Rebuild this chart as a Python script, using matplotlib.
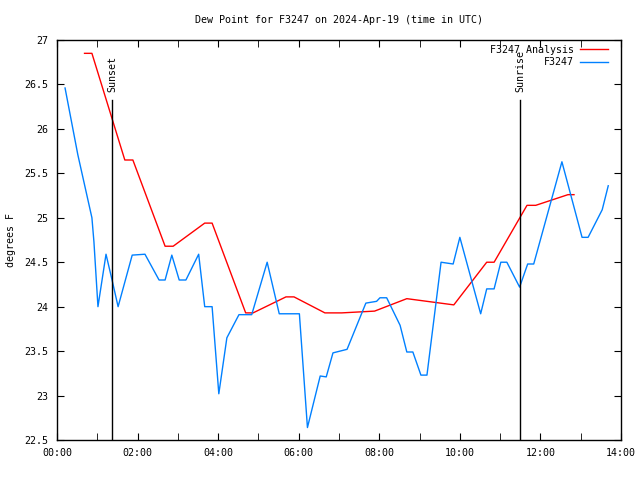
import matplotlib
matplotlib.use("Agg")
import matplotlib.pyplot as plt

# analysis series (time UTC, dew point F)
ana_times = ["00:41", "00:52", "01:41", "01:53", "02:41", "02:53", "03:40", "03:51",
             "04:41", "04:52", "05:41", "05:53", "06:39", "07:04", "07:53", "08:41",
             "09:51", "10:40", "10:51", "11:40", "11:53", "12:41", "12:50"]
ana_vals = [26.85, 26.85, 25.65, 25.65, 24.68, 24.68, 24.94, 24.94,
            23.93, 23.93, 24.11, 24.11, 23.93, 23.93, 23.95, 24.09,
            24.02, 24.50, 24.50, 25.14, 25.14, 25.26, 25.26]

# station series
obs_times = ["00:12", "00:31", "00:52", "00:55", "01:01", "01:13", "01:22", "01:31",
             "01:52", "02:11", "02:32", "02:41", "02:51", "03:02", "03:12", "03:31",
             "03:40", "03:51", "04:01", "04:13", "04:31", "04:50", "05:13", "05:31",
             "06:01", "06:13", "06:32", "06:41", "06:51", "07:12", "07:40", "07:56",
             "08:01", "08:11", "08:31", "08:41", "08:50", "09:02", "09:11", "09:32",
             "09:50", "10:00", "10:31", "10:40", "10:51", "11:01", "11:10", "11:29",
             "11:41", "11:50", "12:32", "13:02", "13:11", "13:32", "13:41"]
obs_vals = [26.46, 25.71, 25.00, 24.73, 24.00, 24.59, 24.30, 24.00,
            24.58, 24.59, 24.30, 24.30, 24.58, 24.30, 24.30, 24.59,
            24.00, 24.00, 23.02, 23.65, 23.91, 23.91, 24.50, 23.92,
            23.92, 22.64, 23.22, 23.21, 23.48, 23.52, 24.04, 24.06,
            24.10, 24.10, 23.79, 23.49, 23.49, 23.23, 23.23, 24.50,
            24.48, 24.78, 23.92, 24.20, 24.20, 24.50, 24.50, 24.22,
            24.48, 24.48, 25.63, 24.78, 24.78, 25.09, 25.36]

sunset = "01:22"
sunrise = "11:29"


def to_hours(s):
    h, m = s.split(":")
    return int(h) + int(m) / 60.0


plt.rcParams['font.family'] = ['DejaVu Sans Mono']
plt.rcParams['font.size'] = 7.2

fig = plt.figure(figsize=(6.4, 4.8), dpi=100)
ax = fig.add_axes([57 / 640, 40 / 480, 564 / 640, 400 / 480])

ax.plot([to_hours(t) for t in ana_times], ana_vals, color='#ff0000', lw=1,
        label='F3247 Analysis')
ax.plot([to_hours(t) for t in obs_times], obs_vals, color='#0080ff', lw=1,
        label='F3247')

# sunset / sunrise markers
for t, name in [(sunset, 'Sunset'), (sunrise, 'Sunrise')]:
    x = to_hours(t)
    ax.plot([x, x], [22.5, 26.33], color='black', lw=1)
    ax.text(x + 0.02, 26.42, name, rotation=90, ha='center', va='bottom')

ax.set_xlim(0, 14)
ax.set_ylim(22.5, 27)
ax.set_xticks(range(0, 15, 2))
ax.set_xticklabels(['%02d:00' % h for h in range(0, 15, 2)])
ax.set_xticks(range(1, 14, 2), minor=True)
yt = [22.5 + 0.5 * i for i in range(10)]
ax.set_yticks(yt)
ax.set_yticklabels(['%g' % v for v in yt])
ax.tick_params(which='both', direction='in', top=True, right=True)
ax.tick_params(which='major', length=5, pad=6)
ax.tick_params(which='minor', length=5)
for sp in ax.spines.values():
    sp.set_linewidth(1)

ax.set_ylabel('degrees F', labelpad=6)
ax.set_title('Dew Point for F3247 on 2024-Apr-19 (time in UTC)',
             fontsize=7.2, pad=12)

leg = ax.legend(loc='upper right', bbox_to_anchor=(1 - 3 / 564, 1 + 5 / 400),
                frameon=False, markerfirst=False,
                handlelength=2.8, borderaxespad=0.6, labelspacing=0.25,
                handletextpad=0.6)
for t in leg.get_texts():
    t.set_ha('right')

fig.savefig('out.png', dpi=100)
